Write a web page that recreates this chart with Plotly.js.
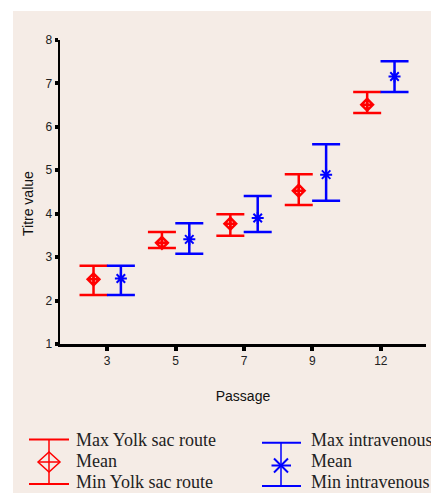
<!DOCTYPE html>
<html>
<head>
<meta charset="utf-8">
<script src="https://cdn.plot.ly/plotly-3.0.1.min.js"></script>
<style>
  html, body { margin: 0; padding: 0; background: #ffffff; width: 431px; height: 494px; overflow: hidden; }
  #chart { position: absolute; left: 13px; top: 11px; width: 418px; height: 482px; }
</style>
</head>
<body>
<div id="chart"></div>
<script>
// ---- data ----
const categories = ['3', '5', '7', '9', '12'];
const yolkMean = [2.49, 3.33, 3.77, 4.53, 6.51];
const yolkMax  = [2.80, 3.58, 3.99, 4.91, 6.80];
const yolkMin  = [2.13, 3.21, 3.49, 4.20, 6.32];
const ivMean   = [2.51, 3.41, 3.90, 4.90, 7.16];
const ivMax    = [2.80, 3.78, 4.41, 5.60, 7.51];
const ivMin    = [2.13, 3.08, 3.58, 4.30, 6.80];
const yTicks   = [1, 2, 3, 4, 5, 6, 7, 8];
const legendYolk = ['Max Yolk sac route', 'Mean', 'Min Yolk sac route'];
const legendIv   = ['Max intravenous route', 'Mean', 'Min intravenous route'];

// ---- style ----
const RED = '#ff0000', BLUE = '#0000ff';
const OFFSET = 0.2;
const idx = categories.map((c, i) => i);

function seriesTrace(name, mean, max, min, off, color, symbol, size, lw) {
  return {
    type: 'scatter', mode: 'markers', name: name,
    x: idx.map(i => i + off), y: mean,
    marker: { symbol: symbol, size: size, color: color, line: { color: color, width: lw } },
    error_y: {
      type: 'data', symmetric: false,
      array: max.map((v, i) => v - mean[i]),
      arrayminus: min.map((v, i) => mean[i] - v),
      color: color, thickness: 2.5, width: 14
    },
    showlegend: false, hoverinfo: 'skip'
  };
}

const traces = [
  seriesTrace('Yolk sac route', yolkMean, yolkMax, yolkMin, -OFFSET, RED, 'diamond-cross-open', 9, 2.5),
  seriesTrace('Intravenous route', ivMean, ivMax, ivMin, OFFSET, BLUE, 'asterisk-open', 10, 2)
];

// page-pixel -> paper helpers for the hand-drawn legend block
const PL = 60, PR = 426, PT = 40, PB = 344;
const px = x => (x - PL) / (PR - PL);
const py = y => (PB - y) / (PB - PT);
function line(x0, y0, x1, y1, color, w) {
  return { type: 'line', xref: 'paper', yref: 'paper', x0: px(x0), y0: py(y0), x1: px(x1), y1: py(y1),
           line: { color: color, width: w } };
}
function path(points, color, w, close) {
  let d = points.map((p, i) => (i ? 'L' : 'M') + px(p[0]) + ',' + py(p[1])).join(' ');
  if (close) d += ' Z';
  return { type: 'path', xref: 'paper', yref: 'paper', path: d, line: { color: color, width: w } };
}

const shapes = [
  // red legend glyph
  line(29, 439.5, 69, 439.5, RED, 2),
  line(29, 484, 69, 484, RED, 2),
  line(49, 439.5, 49, 484, RED, 1.5),
  path([[38, 462], [49, 452], [60, 462], [49, 472]], RED, 1.5, true),
  line(38, 462, 60, 462, RED, 1.5),
  // blue legend glyph
  line(262, 442.7, 301, 442.7, BLUE, 2),
  line(262, 486, 301, 486, BLUE, 2),
  line(281, 442.7, 281, 486, BLUE, 1.5),
  line(271.5, 465.5, 291, 465.5, BLUE, 2),
  line(274, 458.5, 288, 472.5, BLUE, 2),
  line(274, 472.5, 288, 458.5, BLUE, 2)
];

const legendRows = [439.7, 460.7, 481.7];
const serif = { family: 'Liberation Serif, Times New Roman, serif', size: 18, color: '#222222' };
const annotations = [];
legendYolk.forEach((t, i) => annotations.push({
  text: t, xref: 'paper', yref: 'paper', x: px(74), y: py(legendRows[i]),
  xanchor: 'left', yanchor: 'middle', showarrow: false, font: serif
}));
legendIv.forEach((t, i) => annotations.push({
  text: t, xref: 'paper', yref: 'paper', x: px(309), y: py(legendRows[i]),
  xanchor: 'left', yanchor: 'middle', showarrow: false, font: serif
}));
// y-axis title (sits a little below the plot centre in the reference)
annotations.push({
  text: 'Titre value', xref: 'paper', yref: 'paper', x: px(28), y: py(204),
  xanchor: 'center', yanchor: 'middle', textangle: -90, showarrow: false,
  font: { family: 'Liberation Sans, Arial, sans-serif', size: 14, color: '#111111' }
});

const BG = '#f5ece6';
const layout = {
  width: 418, height: 482,
  margin: { l: 47, r: 5, t: 29, b: 149, pad: 0 },
  paper_bgcolor: BG, plot_bgcolor: BG,
  font: { family: 'Liberation Sans, Arial, sans-serif', size: 12, color: '#222222' },
  xaxis: {
    range: [-0.69, 4.66], tickvals: idx, ticktext: categories,
    showline: true, linecolor: '#000000', linewidth: 2.5,
    ticks: 'outside', ticklen: 4, tickwidth: 4, tickcolor: '#000000',
    showgrid: false, zeroline: false,
    tickfont: { size: 12, color: '#222222' },
    title: { text: 'Passage', font: { size: 14, color: '#111111' }, standoff: 25 }
  },
  yaxis: {
    range: [1, 8], tickvals: yTicks,
    showline: true, linecolor: '#000000', linewidth: 2.5,
    ticks: 'outside', ticklen: 3, tickwidth: 4, tickcolor: '#000000',
    showgrid: false, zeroline: false,
    tickfont: { size: 12, color: '#222222' }
  },
  shapes: shapes,
  annotations: annotations,
  showlegend: false
};

Plotly.newPlot('chart', traces, layout, { displayModeBar: false, staticPlot: true });
</script>
</body>
</html>
